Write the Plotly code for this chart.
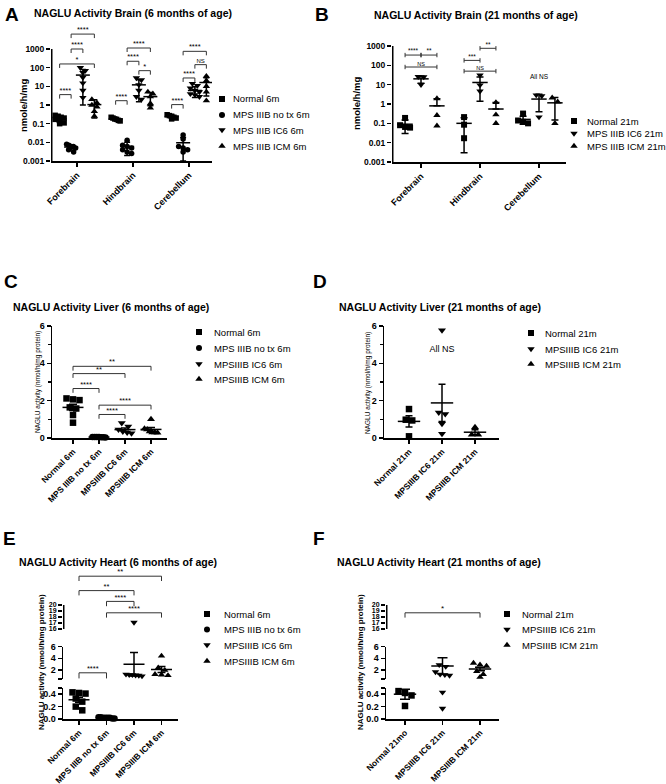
import math
import plotly.graph_objects as go

W, H = 666, 784
FONT = "Liberation Sans, Arial, Helvetica, sans-serif"

# ======================= DATA =======================
brain_regions = ["Forebrain", "Hindbrain", "Cerebellum"]
log_tick_vals = [0.001, 0.01, 0.1, 1, 10, 100, 1000]
log_tick_text = ["0.001", "0.01", "0.1", "1", "10", "100", "1000"]

# --- A: brain, 6 months (nmole/h/mg); each list = [Forebrain, Hindbrain, Cerebellum]
a_series = ["Normal 6m", "MPS IIIB no tx 6m", "MPS IIIB IC6 6m", "MPS IIIB ICM 6m"]
a_normal = [[0.28, 0.25, 0.22, 0.2, 0.17, 0.14, 0.11, 0.1],
            [0.22, 0.2, 0.18, 0.17, 0.15, 0.14],
            [0.3, 0.27, 0.25, 0.22, 0.2, 0.18]]
a_notx = [[0.008, 0.007, 0.006, 0.006, 0.005, 0.004, 0.003],
          [0.013, 0.007, 0.006, 0.005, 0.004, 0.003, 0.0025],
          [0.025, 0.015, 0.006, 0.005, 0.004, 0.003]]
a_ic6 = [[100, 70, 55, 30, 15, 6, 2.5],
         [28, 22, 12, 6, 2.8, 2.0],
         [14, 11, 8, 6, 5, 4, 3.5, 2.8]]
a_icm = [[2.0, 1.3, 1.0, 0.8, 0.45, 0.25],
         [5.0, 4.0, 2.8, 1.2, 0.7],
         [35, 20, 10, 5, 1.7]]
a_mean = [[0.18, 0.18, 0.24], [0.0056, 0.006, 0.0095], [40, 12, 6], [1.05, 2.8, 16]]
a_sd = [[0.06, 0.03, 0.045], [0.0017, 0.004, 0.0085], [39, 10.5, 3.5], [0.85, 1.9, 13]]
# (region, series from, series to, level, label)
a_sig = [(0, 0, 1, 3.6, "****"), (0, 0, 3, 158, "*"), (0, 1, 2, 1000, "****"), (0, 1, 3, 6300, "****"),
         (1, 0, 1, 1.7, "****"), (1, 1, 2, 220, "****"), (1, 2, 3, 69, "*"), (1, 1, 3, 1130, "****"),
         (2, 0, 1, 1.05, "****"), (2, 1, 2, 28, "****"), (2, 2, 3, 145, "NS"), (2, 1, 3, 750, "****")]

# --- B: brain, 21 months
b_series = ["Normal 21m", "MPS IIIB IC6 21m", "MPS IIIB ICM 21m"]
b_normal = [[0.19, 0.08, 0.065, 0.06], [0.21, 0.085, 0.017], [0.32, 0.14, 0.12, 0.1]]
b_ic6 = [[26, 25, 10], [31, 9.5, 4.6], [2.9, 2.6, 0.21]]
b_icm = [[1.9, 0.26, 0.074], [1.2, 0.28, 0.1], [2.1, 1.3, 0.1]]
b_mean = [[0.09, 0.1, 0.16], [20, 13, 1.8], [0.8, 0.55, 1.15]]
b_sd = [[0.06, 0.097, 0.07], [8, 11.6, 1.4], [1.05, 0.65, 1.0]]
b_sig = [(0, 0, 1, 340, "****"), (0, 1, 2, 340, "**"), (0, 0, 2, 82, "NS"),
         (1, 0, 1, 180, "***"), (1, 0, 2, 50, "NS"), (1, 1, 2, 760, "**")]
b_note = ("All NS", 2, 23)

# --- C: liver, 6 months (nmol/h/mg protein)
c_groups = ["Normal 6m", "MPS IIIB no tx 6m", "MPSIIIB IC6 6m", "MPSIIIB ICM 6m"]
c_values = [[2.12, 2.07, 2.03, 1.64, 1.58, 1.23, 0.82],
            [0.06, 0.05, 0.05, 0.04, 0.05, 0.04, 0.03],
            [0.8, 0.62, 0.45, 0.35, 0.3, 0.25],
            [1.0, 0.5, 0.45, 0.35, 0.3, 0.3, 0.28]]
c_mean = [1.64, 0.05, 0.45, 0.46]
c_sem = [0.17, 0.004, 0.09, 0.1]
c_sig = [(0, 1, 2.65, "****"), (0, 2, 3.45, "**"), (0, 3, 3.84, "**"), (1, 2, 1.26, "****"), (1, 3, 1.76, "****")]
lin_ticks = [0, 2, 4, 6]
lin_minor = [1, 3, 5]

# --- D: liver, 21 months
d_groups = ["Normal 21m", "MPSIIIB IC6 21m", "MPSIIIB ICM 21m"]
d_values = [[1.55, 0.98, 0.94, 0.09], [5.77, 1.37, 1.28, 0.76, 0.23], [0.57, 0.18, 0.18]]
d_mean = [0.89, 1.88, 0.31]
d_sem = [0.3, 1.0, 0.13]
d_note = ("All NS", 1, 4.74)

# --- E: heart, 6 months (broken axis)
e_groups = ["Normal 6m", "MPS IIIB no tx 6m", "MPSIIIB IC6 6m", "MPSIIIB ICM 6m"]
e_values = [[0.43, 0.42, 0.41, 0.33, 0.28, 0.2, 0.14],
            [0.03, 0.02, 0.02, 0.01, 0.02, 0.03, 0.02, 0.01],
            [17.1, 1.3, 1.2, 1.1, 1.0, 1.2, 1.15],
            [4.4, 2.4, 2.0, 1.2, 1.1, 1.3]]
e_mean = [0.31, 0.02, 3.0, 2.1]
e_sem = [0.04, 0.003, 2.0, 0.5]
e_sig = [(0, 1, 1.55, "****"), (1, 3, 18.7, "****"), (1, 2, 20.6, "****"), (0, 2, 22.4, "**"), (0, 3, 24.8, "**")]

# --- F: heart, 21 months (broken axis)
f_groups = ["Normal 21mo", "MPSIIIB IC6 21m", "MPSIIIB ICM 21m"]
f_legend = ["Normal 21m", "MPSIIIB IC6 21m", "MPSIIIB ICM 21m"]
f_values = [[0.45, 0.42, 0.38, 0.21],
            [2.9, 2.6, 1.7, 1.3, 1.2, 1.1, 0.43, 0.17],
            [3.2, 2.9, 2.7, 1.8, 1.3, 0.8]]
f_mean = [0.40, 2.7, 2.2]
f_sem = [0.08, 1.4, 0.3]
f_sig = [(0, 2, 18.7, "*")]

heart_segments = [(0, 0.5, ["0.0", "0.2", "0.4", ""], [0, 0.2, 0.4, 0.5]),
                  (0.5, 6, ["", "2", "4", "6"], [0.5, 2, 4, 6]),
                  (16, 20, ["16", "17", "18", "19", "20"], [16, 17, 18, 19, 20])]

# ======================= HELPERS =======================
traces = []
layout = dict(width=W, height=H, margin=dict(l=0, r=0, t=0, b=0), paper_bgcolor="white",
              plot_bgcolor="rgba(0,0,0,0)", showlegend=False, hovermode=False,
              font=dict(family=FONT, color="black"))
ann = []
BLACK = "black"


def axk(letter, i):
    return f"{letter}axis" if i == 1 else f"{letter}axis{i}"


def rf(letter, i):
    return letter if i == 1 else f"{letter}{i}"


BASE = dict(showgrid=False, zeroline=False, automargin=False, fixedrange=True)


def text(x, y, s, size, bold=False, anchor="left", angle=0):
    ann.append(dict(x=x / W, y=1 - y / H, xref="paper", yref="paper", text=s, showarrow=False,
                    xanchor=anchor, yanchor="middle", textangle=angle, borderpad=0,
                    font=dict(family=FONT, size=size, color=BLACK, weight="bold" if bold else "normal")))


def x_axis(i, yi, ax0, ax1, cat0, sp, labels, fs):
    layout[axk("x", i)] = dict(BASE, domain=[ax0 / W, ax1 / W], range=[(ax0 - cat0) / sp, (ax1 - cat0) / sp],
                               anchor=rf("y", yi), showline=True, linewidth=1.5, linecolor=BLACK,
                               ticks="outside", ticklen=4, tickwidth=1.5, tickcolor=BLACK,
                               tickmode="array", tickvals=list(range(len(labels))), ticktext=labels,
                               tickangle=-45,
                               tickfont=dict(family=FONT, size=fs, color=BLACK, weight="bold"))


def y_axis(i, xi, top, bot, rng, typ, tv, tt, fs, showline, minor=None):
    d = dict(BASE, domain=[1 - bot / H, 1 - top / H], range=rng, type=typ, anchor=rf("x", xi),
             showline=showline, linewidth=1.5, linecolor=BLACK, ticks="outside", ticklen=4,
             tickwidth=1.5, tickcolor=BLACK, tickmode="array", tickvals=tv, ticktext=tt,
             tickfont=dict(family=FONT, size=fs, color=BLACK, weight="bold"))
    if minor is not None:
        d["minor"] = dict(tickmode="array", tickvals=minor, ticks="outside", ticklen=2.5,
                          tickwidth=1.5, tickcolor=BLACK)
    layout[axk("y", i)] = d


def line(xi, yi, xs, ys, width=1.5, color=BLACK):
    traces.append(go.Scatter(x=xs, y=ys, xaxis=rf("x", xi), yaxis=rf("y", yi), mode="lines",
                             line=dict(color=color, width=width), hoverinfo="skip"))


def label(xi, yi, x, y, s, fs, pos="top center"):
    traces.append(go.Scatter(x=[x], y=[y], xaxis=rf("x", xi), yaxis=rf("y", yi), mode="text",
                             text=[s], textposition=pos, cliponaxis=False,
                             textfont=dict(family=FONT, size=fs, color=BLACK), hoverinfo="skip"))


def swarm(vals, ypx, gap, tol, max_w):
    idx = sorted(range(len(vals)), key=lambda k: ypx(vals[k]))
    rows, cur = [], []
    for k in idx:
        if cur and ypx(vals[k]) - ypx(vals[cur[0]]) > tol:
            rows.append(cur)
            cur = []
        cur.append(k)
    if cur:
        rows.append(cur)
    off = [0.0] * len(vals)
    for r in rows:
        n = len(r)
        g = gap if n < 2 else min(gap, max_w / (n - 1))
        for j, k in enumerate(r):
            off[k] = (j - (n - 1) / 2) * g
    return off


def points(xi, yi, center, vals, sp, ypx, symbol, size, gap, max_w):
    off = swarm(vals, ypx, gap, gap * 0.8, max_w)
    xs = [center + o / sp for o in off]
    traces.append(go.Scatter(x=xs, y=vals, xaxis=rf("x", xi), yaxis=rf("y", yi), mode="markers",
                             cliponaxis=False, hoverinfo="skip",
                             marker=dict(symbol=symbol, size=size, color=BLACK, line=dict(width=0))))


def meanbar(xi, yi, x, m, hi, lo, mw, cw):
    traces.append(go.Scatter(x=[x], y=[m], xaxis=rf("x", xi), yaxis=rf("y", yi), mode="markers",
                             hoverinfo="skip",
                             marker=dict(symbol="line-ew", size=mw, color=BLACK, line=dict(width=1.5, color=BLACK)),
                             error_y=dict(type="data", symmetric=False, array=[hi], arrayminus=[lo],
                                          width=cw, thickness=1.5, color=BLACK)))


def legend(x_mark, x_text, rows, names, symbols, fs=9.5):
    for yy, nm, sy in zip(rows, names, symbols):
        traces.append(go.Scatter(x=[x_mark], y=[yy], xaxis="x", yaxis="y", mode="markers", hoverinfo="skip",
                                 marker=dict(symbol=sy, size=6 if sy in ("square", "circle") else 6.5,
                                             color=BLACK, line=dict(width=0))))
        text(x_text, yy, nm, fs)


SYM4 = ["square", "circle", "triangle-down", "triangle-up"]
SYM3 = ["square", "triangle-down", "triangle-up"]

# overlay axis for legend symbols (pixel space)
layout["xaxis"] = dict(domain=[0, 1], range=[0, W], visible=False, fixedrange=True)
layout["yaxis"] = dict(domain=[0, 1], range=[H, 0], visible=False, fixedrange=True)

# ======================= PANEL A =======================
A_X, A_X0, A_X1, A_C0, A_SP = 2, 51, 212, 77, 56
A_YB, A_PPD, A_TOP = 161, 18.667, 18
a_off = [-0.31, -0.105, 0.105, 0.31]
x_axis(A_X, A_X, A_X0, A_X1, A_C0, A_SP, brain_regions, 9)
y_axis(A_X, A_X, A_TOP, A_YB, [-3, -3 + (A_YB - A_TOP) / A_PPD], "log", log_tick_vals, log_tick_text, 8.5, False)
line(A_X, A_X, [(A_X0 + 0.75 - A_C0) / A_SP] * 2, [0.001, 1000])
a_ypx = lambda v: A_YB - (math.log10(v) + 3) * A_PPD
a_pts = [a_normal, a_notx, a_ic6, a_icm]
for s in range(4):
    for r in range(3):
        c = r + a_off[s]
        points(A_X, A_X, c, a_pts[s][r], A_SP, a_ypx, SYM4[s], 5.5 if s < 2 else 6.5, 5, 9)
        m, sd = a_mean[s][r], a_sd[s][r]
        meanbar(A_X, A_X, c, m, sd, sd if m - sd > 0 else 0, 10, 3)
a_leg = 10 ** (4 / A_PPD)
for r, s1, s2, lvl, lab in a_sig:
    x1, x2 = r + a_off[s1], r + a_off[s2]
    line(A_X, A_X, [x1, x1, x2, x2], [lvl / a_leg, lvl, lvl, lvl / a_leg], 1, "#333")
    label(A_X, A_X, (x1 + x2) / 2, lvl, lab, 7.5 if lab != "NS" else 6)
text(4, 15, "A", 19, True)
text(33, 13, "NAGLU Activity Brain (6 months of age)", 10.5, True)
text(24, 105, "nmole/h/mg", 9.5, True, "center", -90)
legend(222, 232, [99, 115, 130, 146], a_series, SYM4)

# ======================= PANEL B =======================
B_X, B_X0, B_X1, B_C0, B_SP = 3, 392, 566, 421, 59
B_YB, B_PPD, B_TOP = 162, 19.333, 36
b_off = [-0.27, 0, 0.27]
x_axis(B_X, B_X, B_X0, B_X1, B_C0, B_SP, brain_regions, 9)
y_axis(B_X, B_X, B_TOP, B_YB, [-3, -3 + (B_YB - B_TOP) / B_PPD], "log", log_tick_vals, log_tick_text, 8.5, False)
line(B_X, B_X, [(B_X0 + 0.75 - B_C0) / B_SP] * 2, [0.001, 1000])
b_ypx = lambda v: B_YB - (math.log10(v) + 3) * B_PPD
b_pts = [b_normal, b_ic6, b_icm]
for s in range(3):
    for r in range(3):
        c = r + b_off[s]
        points(B_X, B_X, c, b_pts[s][r], B_SP, b_ypx, SYM3[s], 6 if s == 0 else 6.5, 5.5, 10)
        m, sd = b_mean[s][r], b_sd[s][r]
        meanbar(B_X, B_X, c, m, sd, sd if m - sd > 0 else 0, 11, 3.5)
b_cap = 10 ** (2.2 / B_PPD)
for r, s1, s2, lvl, lab in b_sig:
    x1, x2 = r + b_off[s1], r + b_off[s2]
    line(B_X, B_X, [x1, x1, None, x1, x2, None, x2, x2],
         [lvl * b_cap, lvl / b_cap, None, lvl, lvl, None, lvl * b_cap, lvl / b_cap], 1, "#333")
    label(B_X, B_X, (x1 + x2) / 2, lvl, lab, 6.5 if lab != "NS" else 5.5)
label(B_X, B_X, b_note[1], b_note[2], b_note[0], 6.5, "middle center")
text(314, 15, "B", 19, True)
text(373, 15, "NAGLU Activity Brain (21 months of age)", 10.5, True)
text(356, 103, "nmole/h/mg", 9.5, True, "center", -90)
legend(574, 586, [121, 133.5, 146], b_series, SYM3)

# ======================= PANEL C =======================
C_X, C_X0, C_X1, C_C0, C_SP = 4, 52, 167, 73, 26
C_Y0, C_PPU, C_TOP = 438, 18.667, 326
x_axis(C_X, C_X, C_X0, C_X1, C_C0, C_SP, c_groups, 8.5)
y_axis(C_X, C_X, C_TOP, C_Y0, [0, 6], "linear", lin_ticks, [str(v) for v in lin_ticks], 9, True, lin_minor)
c_ypx = lambda v: C_Y0 - v * C_PPU
for s in range(4):
    points(C_X, C_X, s, c_values[s], C_SP, c_ypx, SYM4[s], 6.5 if s < 2 else 7, 6.5, 13)
    meanbar(C_X, C_X, s, c_mean[s], c_sem[s], c_sem[s], 15, 4)
for s1, s2, lvl, lab in c_sig:
    line(C_X, C_X, [s1, s1, s2, s2], [lvl - 0.23, lvl, lvl, lvl - 0.23], 1, "#333")
    label(C_X, C_X, (s1 + s2) / 2, lvl, lab, 7.5)
text(3, 282, "C", 19, True)
text(12, 307, "NAGLU Activity Liver (6 months of age)", 10.5, True)
text(38, 382, "NAGLU activity (nmol/h/mg protein)", 6.5, False, "center", -90)
legend(199, 213, [332, 348, 364, 379], c_groups, SYM4)

# ======================= PANEL D =======================
D_X, D_X0, D_X1, D_C0, D_SP = 5, 384, 499, 409, 33
x_axis(D_X, D_X, D_X0, D_X1, D_C0, D_SP, d_groups, 8.5)
y_axis(D_X, D_X, C_TOP, C_Y0, [0, 6], "linear", lin_ticks, [str(v) for v in lin_ticks], 9, True, lin_minor)
for s in range(3):
    points(D_X, D_X, s, d_values[s], D_SP, c_ypx, SYM3[s], 6.5 if s == 0 else 7, 6.5, 13)
    meanbar(D_X, D_X, s, d_mean[s], d_sem[s], d_sem[s], 16, 3.5)
label(D_X, D_X, d_note[1], d_note[2], d_note[0], 9, "middle center")
text(312, 282, "D", 19, True)
text(338, 307, "NAGLU Activity Liver (21 months of age)", 10.5, True)
text(368, 383, "NAGLU activity (nmol/h/mg protein)", 6.5, False, "center", -90)
legend(531, 544, [333, 349, 364], d_groups, SYM3)

# ======================= PANELS E & F (broken axes) =======================
SEG_PX = [(719, 688), (679, 646.5), (629, 605)]   # pixel of (lo, hi) per segment
TOP_EXTRA = 570


def seg_ypx(v):
    for (lo, hi, _, _), (plo, phi) in zip(heart_segments, SEG_PX):
        if v <= hi + 1e-9:
            return plo - (v - lo) / (hi - lo) * (plo - phi)
    lo, hi, _, _ = heart_segments[-1]
    plo, phi = SEG_PX[-1]
    return plo - (v - lo) / (hi - lo) * (plo - phi)


def seg_of(v):
    for k, (lo, hi, _, _) in enumerate(heart_segments):
        if v <= hi + 1e-9:
            return k
    return len(heart_segments) - 1


def broken_panel(xi, ax0, ax1, cat0, sp, groups, values, means, sems, sig, syms, mw, cw, max_w):
    x_axis(xi, xi, ax0, ax1, cat0, sp, groups, 8.5)
    yis = [xi, xi + 1, xi + 2]
    for k, ((lo, hi, tt, tv), (plo, phi)) in enumerate(zip(heart_segments, SEG_PX)):
        top_px = phi if k < 2 else TOP_EXTRA
        ppu = (plo - phi) / (hi - lo)
        rng = [lo, lo + (plo - top_px) / ppu]
        y_axis(yis[k], xi, top_px, plo, rng, "linear", tv, tt, 9 if k < 2 else 7, k < 2)
    lo, hi = heart_segments[2][0], heart_segments[2][1]
    line(xi, yis[2], [(ax0 + 0.75 - cat0) / sp] * 2, [lo, hi])
    for s in range(len(groups)):
        vals = values[s]
        off = swarm(vals, seg_ypx, 6.5, 5, max_w)
        for k in range(3):
            slo, shi = heart_segments[k][0], heart_segments[k][1]
            sel = [j for j in range(len(vals)) if seg_of(vals[j]) == k]
            if sel:
                traces.append(go.Scatter(x=[s + off[j] / sp for j in sel], y=[vals[j] for j in sel],
                                         xaxis=rf("x", xi), yaxis=rf("y", yis[k]), mode="markers",
                                         cliponaxis=False, hoverinfo="skip",
                                         marker=dict(symbol=syms[s], size=6.5, color=BLACK, line=dict(width=0))))
            if means[s] + sems[s] > slo and means[s] - sems[s] < shi:
                meanbar(xi, yis[k], s, means[s], sems[s], sems[s], mw, cw)
    for s1, s2, lvl, lab in sig:
        k = seg_of(lvl) if lvl <= 20 else 2
        leg = 0.95 if k == 1 else 0.8
        line(xi, yis[k], [s1, s1, s2, s2], [lvl - leg, lvl, lvl, lvl - leg], 1, "#333")
        label(xi, yis[k], (s1 + s2) / 2, lvl, lab, 7.5 if lab != "*" else 8)


broken_panel(6, 63, 178, 79, 27.5, e_groups, e_values, e_mean, e_sem, e_sig, SYM4, 15, 4, 16)
text(2, 538, "E", 19, True)
text(18, 562, "NAGLU Activity Heart (6 months of age)", 10.5, True)
text(41, 662, "NAGLU activity (nmol/h/mg protein)", 8, True, "center", -90)
legend(207, 223, [614, 629.5, 645, 661], e_groups, SYM4)

broken_panel(9, 386, 499, 405, 37.5, f_groups, f_values, f_mean, f_sem, f_sig, SYM3, 16, 5, 14)
text(312, 538, "F", 19, True)
text(336, 562, "NAGLU Activity Heart (21 months of age)", 10.5, True)
text(360, 662, "NAGLU activity (nmol/h/mg protein)", 8, True, "center", -90)
legend(507, 521, [614, 629.5, 645], f_legend, SYM3)

layout["annotations"] = ann
fig = go.Figure(data=traces, layout=layout)
fig.write_html("out.html", config={"displayModeBar": False, "staticPlot": True},
               post_script="document.body.style.margin='0';document.body.style.overflow='hidden';")
